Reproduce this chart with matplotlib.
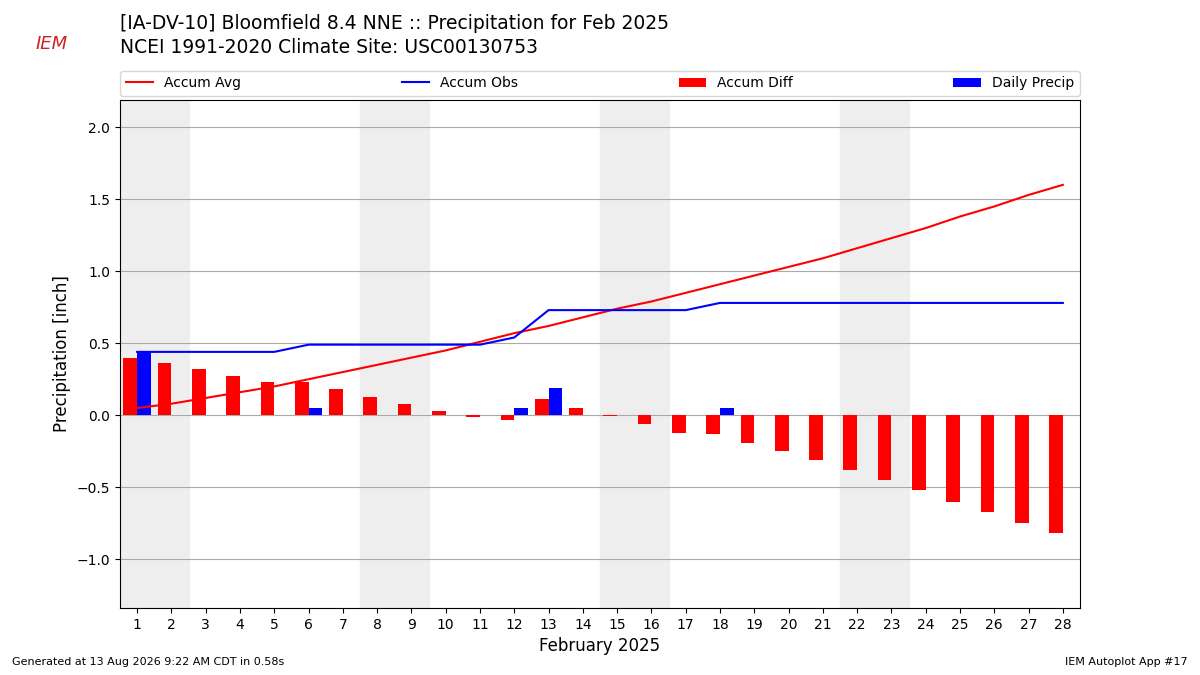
import numpy as np
import matplotlib
matplotlib.use("Agg")
import matplotlib.pyplot as plt

days = np.arange(1, 29)
accum_avg = [0.05, 0.08, 0.12, 0.16, 0.20, 0.25, 0.30, 0.35, 0.40, 0.45, 0.51, 0.57, 0.62, 0.68,
             0.74, 0.79, 0.85, 0.91, 0.97, 1.03, 1.09, 1.16, 1.23, 1.30, 1.38, 1.45, 1.53, 1.60]
accum_obs = [0.44] * 5 + [0.49] * 6 + [0.54] + [0.73] * 5 + [0.78] * 11
accum_diff = [0.40, 0.36, 0.32, 0.27, 0.23, 0.23, 0.18, 0.13, 0.08, 0.03, -0.01, -0.03, 0.11, 0.05,
              -0.005, -0.06, -0.12, -0.13, -0.19, -0.25, -0.31, -0.38, -0.45, -0.52, -0.60, -0.67, -0.75, -0.82]
daily = [0.44, 0, 0, 0, 0, 0.05, 0, 0, 0, 0, 0, 0.05, 0.19, 0, 0, 0, 0, 0.05, 0, 0, 0, 0, 0, 0, 0, 0, 0, 0]
weekends = [(0.5, 2.5), (7.5, 9.5), (14.5, 16.5), (21.5, 23.5)]

fig = plt.figure(figsize=(12, 6.75), dpi=100)
ax = fig.add_axes([0.1, 0.099, 0.8, 0.753])

for a, b in weekends:
    ax.axvspan(a, b, color="#eeeeee", zorder=0)
ax.plot(days, accum_avg, color="red", label="Accum Avg", zorder=3)
ax.plot(days, accum_obs, color="blue", label="Accum Obs", zorder=3)
ax.bar(days - 0.2, accum_diff, width=0.4, color="red", label="Accum Diff", zorder=2)
ax.bar(days + 0.2, daily, width=0.4, color="blue", label="Daily Precip", zorder=2)

ax.set_xlim(0.5, 28.5)
ax.set_ylim(-1.34, 2.19)
ax.set_xticks(days)
ax.set_yticks(np.arange(-1.0, 2.01, 0.5))
ax.yaxis.grid(True, color="#aaaaaa")
ax.set_axisbelow(True)
ax.set_xlabel("February 2025", fontsize=12)
ax.set_ylabel("Precipitation [inch]", fontsize=12)
ax.legend(loc="lower left", bbox_to_anchor=(0, 1.008, 1, 0.05), ncol=4, mode="expand",
          borderaxespad=0, fontsize=10)

fig.text(0.1, 0.965, "[IA-DV-10] Bloomfield 8.4 NNE :: Precipitation for Feb 2025", fontsize=13.5, va="center")
fig.text(0.1, 0.929, "NCEI 1991-2020 Climate Site: USC00130753", fontsize=13.5, va="center")
fig.text(0.03, 0.935, "IEM", fontsize=13, color="#cc2222", style="italic", va="center")
fig.text(0.01, 0.015, "Generated at 13 Aug 2026 9:22 AM CDT in 0.58s", fontsize=8)
fig.text(0.99, 0.015, "IEM Autoplot App #17", fontsize=8, ha="right")
fig.savefig("out.png")
